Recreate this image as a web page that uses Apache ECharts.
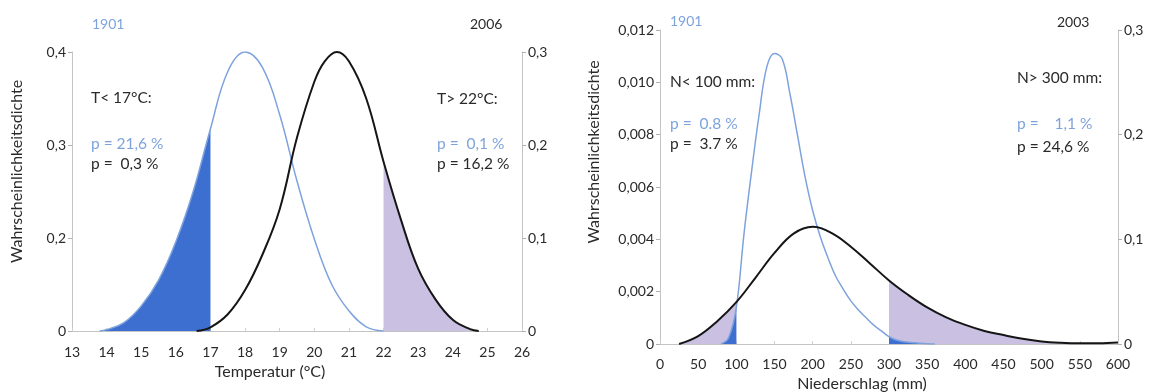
<!DOCTYPE html>
<html>
<head>
<meta charset="utf-8">
<script src="https://cdn.jsdelivr.net/npm/echarts@6/dist/echarts.min.js"></script>
<style>
  html, body { margin: 0; background: #fff; }
  #chart { width: 1156px; height: 392px; }
</style>
</head>
<body>
<div id="chart"></div>
<script>
// Temperatur: Dichte 1901 (linke Achse), 2006 (rechte Achse)
const temp1901 = [13.8, 14, 14.5, 15, 15.5, 16, 16.5, 17, 17.5, 18, 18.5, 19, 19.5, 20, 20.5, 21, 21.5, 22];
const dens1901T = [0, 0.002, 0.012, 0.036, 0.073, 0.128, 0.2, 0.29, 0.372, 0.4, 0.378, 0.31, 0.215, 0.132, 0.067, 0.029, 0.006, 0];
const temp2006 = [16.6, 17, 17.5, 18, 18.5, 19, 19.5, 20, 20.3, 20.65, 21, 21.5, 22, 22.5, 23, 23.5, 24, 24.5, 24.75];
const dens2006T = [0, 0.004, 0.018, 0.044, 0.082, 0.131, 0.208, 0.268, 0.29, 0.3, 0.29, 0.25, 0.182, 0.12, 0.067, 0.034, 0.012, 0.002, 0];

// Niederschlag: Dichte 1901 und 2003 (beide linke Achse)
const prec1901 = [80, 90, 100, 110, 120, 130, 140, 150, 160, 170, 180, 190, 200, 210, 220, 230, 240, 250, 260, 270, 280, 290, 300, 310, 320, 330, 340, 350, 360];
const dens1901P = [0, 0.00025, 0.0014, 0.0042, 0.0066, 0.0088, 0.0106, 0.0111, 0.0109, 0.0096, 0.008, 0.0064, 0.0051, 0.0041, 0.0033, 0.0026, 0.0021, 0.00165, 0.0013, 0.001, 0.00072, 0.0005, 0.00028, 0.00015, 0.00009, 0.00006, 0.00003, 0.00001, 0];
const prec2003 = [25, 50, 75, 100, 125, 150, 175, 200, 225, 250, 275, 300, 325, 350, 375, 400, 425, 450, 475, 500, 525, 550, 575, 600];
const dens2003P = [0, 0.0003, 0.00087, 0.0016, 0.00253, 0.00348, 0.00422, 0.00448, 0.00424, 0.00372, 0.00308, 0.00243, 0.00188, 0.0014, 0.00102, 0.00073, 0.0005, 0.00034, 0.0002, 0.0001, 0.00005, 0.00003, 0.00003, 0.00006];

const tempLow = 17, tempHigh = 22;
const precLow = 100, precHigh = 300;

// linke Achse im Original: 0 / 0,2 / 0,3 / 0,4 in gleichen Abständen
const tempLeftTicks = ['0', '0,2', '0,3', '0,4'];

const BLUE_LINE = '#7ea3dc';
const BLUE_FILL = '#3d6fd0';
const LILAC_FILL = '#c9c0e2';
const BLACK = '#151515';
const TXT = '#2a2a2a';
const FONT = 'Lato';

const pairs = (xs, ys) => xs.map((x, i) => [x, ys[i]]);
const below = (xs, ys, lim) => pairs(xs, ys).filter(p => p[0] <= lim);
const above = (xs, ys, lim) => pairs(xs, ys).filter(p => p[0] >= lim);
const comma = v => String(+v.toFixed(4)).replace('.', ',');

const axisLine = { lineStyle: { color: '#c4c4c4', width: 1 } };
const yTick = { length: 4, lineStyle: { color: '#b0b0b0' } };
const xTick = { inside: true, length: 3, lineStyle: { color: '#cfcfcf' } };
const lbl = { color: TXT, fontSize: 14, fontFamily: FONT };
const nameStyle = (pad) => ({ color: TXT, fontSize: 16, fontFamily: FONT, padding: pad });

function xAx(grid, min, max, interval, name, gap, margin) {
  return {
    type: 'value', gridIndex: grid, min, max, interval,
    axisLine, axisTick: xTick, splitLine: { show: false },
    axisLabel: Object.assign({ margin }, lbl),
    name, nameLocation: 'middle', nameGap: gap,
    nameTextStyle: nameStyle([0, 54, 0, 0])
  };
}

function yAx(grid, pos, min, max, interval, fmt, extra) {
  return Object.assign({
    type: 'value', gridIndex: grid, position: pos, min, max, interval,
    axisLine: Object.assign({ show: true }, axisLine), axisTick: Object.assign({ show: true }, yTick),
    splitLine: { show: false },
    axisLabel: Object.assign({ formatter: fmt, margin: 6 }, lbl)
  }, extra || {});
}

function curve(xi, yi, data, color, width, z) {
  return {
    type: 'line', xAxisIndex: xi, yAxisIndex: yi, data, smooth: 0.4,
    symbol: 'none', silent: true, z,
    lineStyle: { color, width }
  };
}

function fill(xi, yi, data, color, z) {
  return {
    type: 'line', xAxisIndex: xi, yAxisIndex: yi, data, smooth: 0.4,
    symbol: 'none', silent: true, z,
    lineStyle: { width: 0 }, areaStyle: { color, opacity: 1 }
  };
}

function note(x, y, text, color, size) {
  return { type: 'text', left: x, top: y, z: 10, silent: true,
    style: { text, fill: color || TXT, font: (size || 15.5) + 'px ' + FONT } };
}

const chart = echarts.init(document.getElementById('chart'));
chart.setOption({
  animation: false,
  backgroundColor: '#fff',
  grid: [
    { left: 72, top: 52, width: 450, height: 279, outerBoundsMode: 'none' },
    { left: 660, top: 30, width: 458, height: 314, outerBoundsMode: 'none' }
  ],
  xAxis: [
    xAx(0, 13, 26, 1, 'Temperatur (°C)', 33, 14),
    xAx(1, 0, 600, 50, 'Niederschlag (mm)', 30, 13)
  ],
  yAxis: [
    yAx(0, 'left', 0, 0.4, 0.4 / 3, v => tempLeftTicks[Math.round(v * 3 / 0.4)], {
      name: 'Wahrscheinlichkeitsdichte', nameLocation: 'middle', nameRotate: 90, nameGap: 47,
      nameTextStyle: nameStyle([0, 0, 0, 40])
    }),
    yAx(0, 'right', 0, 0.3, 0.1, comma),
    yAx(1, 'left', 0, 0.012, 0.002, v => (v === 0 ? '0' : v.toFixed(3).replace('.', ',')), {
      name: 'Wahrscheinlichkeitsdichte', nameLocation: 'middle', nameRotate: 90, nameGap: 58,
      nameTextStyle: nameStyle([0, 0, 0, 70])
    }),
    yAx(1, 'right', 0, 0.3, 0.1, comma)
  ],
  series: [
    // Temperatur
    fill(0, 0, below(temp1901, dens1901T, tempLow), BLUE_FILL, 1),
    fill(0, 1, above(temp2006, dens2006T, tempHigh), LILAC_FILL, 1),
    curve(0, 0, pairs(temp1901, dens1901T), BLUE_LINE, 1.5, 3),
    curve(0, 1, pairs(temp2006, dens2006T), BLACK, 2, 4),
    // Niederschlag
    fill(1, 2, below(prec2003, dens2003P, precLow), LILAC_FILL, 1),
    fill(1, 2, above(prec2003, dens2003P, precHigh), LILAC_FILL, 1),
    fill(1, 2, below(prec1901, dens1901P, precLow), BLUE_FILL, 2),
    fill(1, 2, above(prec1901, dens1901P, precHigh), BLUE_FILL, 2),
    curve(1, 2, pairs(prec1901, dens1901P), BLUE_LINE, 1.5, 3),
    curve(1, 2, pairs(prec2003, dens2003P), BLACK, 2, 4)
  ],
  graphic: [
    note(92, 17, '1901', BLUE_LINE, 14),
    note(470, 17, '2006', null, 14),
    note(91, 90, 'T< 17°C:'),
    note(91, 136, 'p = 21,6 %', BLUE_LINE),
    note(91, 156, 'p =  0,3 %'),
    note(437, 91, 'T> 22°C:'),
    note(437, 136, 'p =  0,1 %', BLUE_LINE),
    note(437, 156, 'p = 16,2 %'),
    note(670, 14, '1901', BLUE_LINE, 14),
    note(1057, 15, '2003', null, 14),
    note(670, 74, 'N< 100 mm:'),
    note(670, 116, 'p =  0.8 %', BLUE_LINE),
    note(670, 136, 'p =  3.7 %'),
    note(1017, 70, 'N> 300 mm:'),
    note(1017, 116, 'p =    1,1 %', BLUE_LINE),
    note(1017, 139, 'p = 24,6 %')
  ]
});
</script>
</body>
</html>
